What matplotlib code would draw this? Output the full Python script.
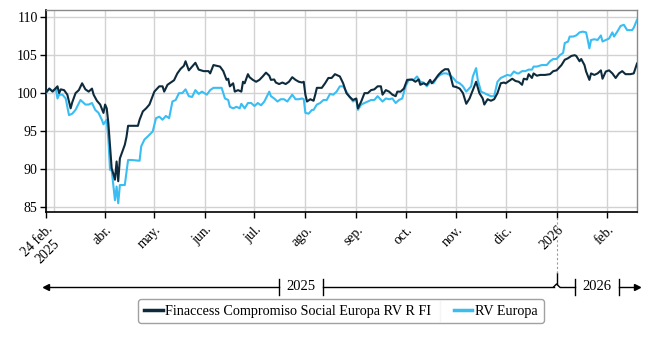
import numpy as np
import pandas as pd
import matplotlib
matplotlib.use("Agg")
import matplotlib.pyplot as plt
import matplotlib.dates as mdates
from matplotlib.lines import Line2D

plt.rcParams["font.family"] = ["Liberation Serif", "DejaVu Serif"]

START = pd.Timestamp("2025-02-24")
END = pd.Timestamp("2026-02-19")

# days since 24 feb 2025, base 100
fund_days = [0, 2, 4, 7, 8, 9, 11, 13, 15, 16, 18, 20, 22, 24, 26, 28, 29, 31, 33, 35,
             36, 37, 38, 39, 40, 41, 42, 43, 44, 45, 46, 48, 49, 50, 53, 56, 57, 59, 61, 63,
             66, 69, 71, 72, 74, 76, 78, 80, 82, 84, 85, 87, 89, 91, 93, 96, 99, 100, 102, 104,
             106, 108, 110, 111, 112, 114, 115, 117, 119, 120, 121, 123, 124, 126, 128, 130, 132, 134, 136, 137,
             139, 140, 142, 144, 146, 148, 150, 152, 154, 156, 157, 158, 159, 161, 163, 164, 165, 168, 170, 172,
             174, 176, 178, 179, 181, 183, 185, 187, 189, 190, 192, 194, 196, 198, 200, 202, 204, 205, 207, 209,
             211, 213, 214, 216, 218, 220, 223, 225, 227, 228, 230, 232, 234, 235, 237, 239, 241, 243, 245, 246,
             248, 250, 252, 254, 256, 258, 260, 262, 264, 266, 267, 269, 271, 273, 275, 277, 279, 280, 282, 284,
             286, 288, 290, 291, 293, 294, 296, 297, 299, 301, 304, 307, 309, 311, 314, 316, 318, 320, 322, 323,
             325, 326, 328, 329, 331, 332, 334, 336, 338, 339, 341, 343, 345, 347, 349, 351, 353, 356, 358, 360]
fund_vals = [100.1, 100.6, 100.2, 100.9, 100.0, 100.5, 100.4, 99.8, 98.0, 98.8, 100.0, 100.4, 101.3, 100.5, 100.2, 100.6, 99.8, 99.0, 98.5, 97.4,
             98.5, 98.0, 96.0, 93.0, 90.1, 89.4, 88.6, 91.0, 88.4, 91.4, 92.0, 93.2, 94.2, 95.7, 95.7, 95.7, 96.5, 97.6, 98.0, 98.5,
             100.2, 100.9, 100.9, 100.2, 101.1, 101.4, 101.7, 102.6, 103.2, 103.6, 104.2, 103.0, 103.5, 104.0, 103.1, 102.9, 102.9, 102.6, 103.7, 103.6,
             103.5, 102.9, 101.75, 101.9, 100.9, 101.3, 100.2, 100.4, 100.2, 101.5, 101.3, 102.5, 102.1, 101.75, 101.5, 101.75, 102.2, 102.7, 102.3, 101.75,
             101.8, 101.4, 101.2, 101.4, 101.2, 101.5, 102.1, 101.75, 101.5, 101.4, 101.5, 99.8, 98.9, 99.2, 99.0, 99.8, 100.7, 100.7, 101.3, 102.0,
             102.0, 102.5, 102.3, 102.2, 101.3, 100.0, 99.5, 99.1, 99.3, 98.0, 98.9, 100.0, 100.0, 100.4, 100.5, 100.9, 100.9, 99.8, 100.4, 100.2,
             99.8, 99.6, 100.2, 100.2, 100.6, 101.75, 101.8, 101.5, 101.8, 101.1, 101.3, 101.1, 101.75, 101.3, 101.8, 102.4, 102.85, 103.15, 103.15, 102.6,
             100.9, 100.8, 100.6, 100.0, 98.6, 99.3, 100.4, 101.5, 100.0, 99.3, 98.5, 99.2, 99.0, 99.2, 100.0, 101.3, 101.4, 101.3, 101.6, 101.9,
             101.6, 101.5, 101.1, 101.9, 101.8, 102.5, 102.0, 102.6, 102.3, 102.4, 102.4, 102.5, 102.9, 103.0, 103.7, 104.4, 104.6, 104.9, 105.0, 104.9,
             104.2, 104.5, 103.7, 102.85, 101.75, 102.6, 102.4, 102.6, 103.0, 101.9, 102.85, 103.0, 102.6, 102.0, 102.6, 102.9, 102.5, 102.5, 102.6, 103.9]

bench_days = [0, 2, 4, 6, 7, 8, 10, 12, 14, 16, 18, 21, 22, 24, 26, 28, 30, 32, 34, 35,
              37, 38, 39, 40, 42, 43, 44, 45, 47, 48, 50, 52, 57, 58, 60, 62, 65, 67, 69, 71,
              73, 75, 77, 79, 81, 83, 85, 87, 89, 91, 93, 95, 98, 100, 102, 105, 107, 109, 111, 112,
              114, 116, 118, 119, 121, 123, 125, 127, 129, 131, 133, 136, 137, 139, 141, 143, 145, 147, 150, 152,
              154, 156, 157, 158, 160, 162, 163, 165, 167, 169, 171, 173, 175, 177, 179, 181, 183, 185, 187, 189,
              190, 192, 194, 196, 198, 200, 202, 205, 207, 209, 211, 213, 215, 217, 219, 221, 224, 226, 228, 230,
              232, 234, 236, 238, 240, 242, 244, 246, 248, 250, 252, 254, 256, 259, 260, 262, 263, 265, 267, 269,
              271, 273, 275, 277, 279, 281, 283, 285, 287, 288, 290, 292, 294, 296, 297, 299, 302, 305, 307, 309,
              311, 313, 315, 316, 318, 319, 321, 323, 325, 327, 329, 330, 331, 332, 334, 336, 338, 339, 341, 343,
              345, 346, 348, 350, 352, 354, 357, 358, 360]
bench_vals = [100.0, 100.6, 100.3, 100.6, 99.3, 99.8, 99.8, 99.3, 97.1, 97.3, 97.8, 99.1, 98.9, 98.5, 98.5, 98.7, 97.8, 97.4, 96.5, 95.9,
              96.5, 93.9, 89.9, 89.9, 85.9, 87.7, 85.5, 87.9, 87.9, 87.9, 91.2, 91.2, 91.1, 93.0, 93.9, 94.3, 94.95, 96.7, 96.9, 96.5,
              97.0, 96.7, 98.9, 99.1, 100.0, 100.0, 100.5, 99.6, 99.5, 100.4, 99.9, 100.2, 99.8, 100.4, 100.7, 100.7, 100.7, 99.3, 99.1, 98.2,
              98.0, 98.2, 98.0, 98.6, 98.0, 98.7, 98.7, 98.3, 98.7, 98.4, 98.9, 100.2, 99.6, 99.3, 98.9, 99.2, 99.2, 98.9, 99.8, 99.2,
              99.2, 99.3, 99.2, 97.4, 97.3, 97.8, 97.8, 98.5, 98.7, 99.1, 99.1, 99.9, 99.8, 100.2, 100.9, 100.9, 100.2, 99.5, 98.9, 99.2,
              97.8, 98.5, 98.7, 98.9, 99.1, 99.1, 99.6, 98.9, 99.3, 99.2, 99.3, 98.7, 99.1, 99.3, 100.9, 101.75, 101.75, 102.2, 101.5, 101.4,
              100.9, 101.5, 101.3, 102.0, 102.4, 102.6, 102.6, 102.4, 102.0, 101.5, 101.3, 100.9, 100.2, 100.9, 102.2, 103.3, 101.75, 100.2, 100.0, 99.8,
              99.6, 99.6, 101.5, 102.0, 102.2, 102.4, 102.3, 102.85, 102.6, 102.6, 102.9, 102.9, 103.1, 103.1, 103.5, 103.5, 103.7, 103.7, 104.2, 104.5,
              104.5, 105.0, 105.3, 106.6, 106.8, 107.45, 107.45, 107.6, 108.0, 108.1, 108.0, 107.0, 105.9, 107.0, 107.1, 107.0, 107.6, 106.8, 107.0, 107.2,
              108.0, 107.45, 108.1, 108.85, 109.0, 108.3, 108.3, 108.6, 109.65]

tick_dates = ["2025-02-24", "2025-04-01", "2025-05-01", "2025-06-01", "2025-07-01", "2025-08-01",
              "2025-09-01", "2025-10-01", "2025-11-01", "2025-12-01", "2026-01-01", "2026-02-01"]
tick_labels = ["24 feb.\n2025", "abr.", "may.", "jun.", "jul.", "ago.", "sep.", "oct.", "nov.",
               "dic.", "2026", "feb."]
y_ticks = [85, 90, 95, 100, 105, 110]
series_names = ["Finaccess Compromiso Social Europa RV R FI", "RV Europa"]
colors = ["#0e2b3d", "#3abdf2"]

W, H = 650, 338
fig = plt.figure(figsize=(W / 100, H / 100), dpi=100)
ax = fig.add_axes([46 / W, 1 - 212 / H, 591 / W, 202 / H])

fund_x = START + pd.to_timedelta(fund_days, unit="D")
bench_x = START + pd.to_timedelta(bench_days, unit="D")
ax.plot(bench_x, bench_vals, color=colors[1], lw=1.5, zorder=3)
ax.plot(fund_x, fund_vals, color=colors[0], lw=1.5, zorder=4)

ax.set_xlim(START, END)
ax.set_ylim(84.35, 110.95)
ax.set_yticks(y_ticks)
ax.set_yticklabels([str(v) for v in y_ticks], fontsize=10)
ax.set_xticks(pd.to_datetime(tick_dates))
ax.set_xticklabels(tick_labels, fontsize=10, rotation=45, ha="right", va="top",
                   rotation_mode="anchor")
ax.get_xticklabels()[0].set_multialignment("center")
ax.tick_params(axis="both", length=4, width=1, color="black")
ax.tick_params(axis="y", pad=2)
ax.tick_params(axis="x", pad=4)

ax.grid(True, color="#d2d2d2", lw=1)
ax.axvline(pd.Timestamp("2025-03-01"), color="#d2d2d2", lw=1, zorder=0)
ax.set_axisbelow(True)
for side in ["left", "bottom"]:
    ax.spines[side].set_color("black")
    ax.spines[side].set_linewidth(1.2)
for side in ["top", "right"]:
    ax.spines[side].set_color("#8a8a8a")
    ax.spines[side].set_linewidth(1)

# year navigator under the axis
inv = fig.transFigure.inverted()


def fx(d):
    xd = ax.transData.transform((mdates.date2num(pd.Timestamp(d)), 0))[0]
    return inv.transform((xd, 0))[0]


y_nav = 1 - 287 / H
dx = 1 / W
dy = 1 / H
x0, x26, x1 = fx(START), fx("2026-01-01"), fx(END)
c25, c26 = (x0 + x26) / 2, (x26 + x1) / 2
gap = 22 * dx
kw = dict(color="black", lw=1, transform=fig.transFigure, clip_on=False)
segs = [(x0, c25 - gap), (c25 + gap, x26 - 3 * dx), (x26 + 3 * dx, c26 - gap), (c26 + gap, x1)]
for a, b in segs:
    fig.add_artist(Line2D([a, b], [y_nav, y_nav], **kw))
for c in (c25, c26):
    for e in (c - gap, c + gap):
        fig.add_artist(Line2D([e, e], [y_nav - 8 * dy, y_nav + 8 * dy], **kw))
fig.text(c25, y_nav, "2025", ha="center", va="center", fontsize=10.5)
fig.text(c26, y_nav, "2026", ha="center", va="center", fontsize=10.5)
fig.add_artist(Line2D([x26 - 3 * dx, x26, x26 + 3 * dx], [y_nav, y_nav + 3 * dy, y_nav], **kw))
fig.add_artist(Line2D([x26, x26], [y_nav + 3 * dy, y_nav + 14 * dy], **kw))
fig.add_artist(Line2D([x26, x26], [y_nav + 14 * dy, 1 - 216 / H], color="#9a9a9a", lw=0.8,
                      ls=(0, (2, 2)), transform=fig.transFigure, clip_on=False))
fig.add_artist(Line2D([x0], [y_nav], marker="<", ms=5, color="black",
                      transform=fig.transFigure, clip_on=False))
fig.add_artist(Line2D([x1], [y_nav], marker=">", ms=5, color="black",
                      transform=fig.transFigure, clip_on=False))

handles = [Line2D([], [], color=c, lw=2.5) for c in colors]
leg = fig.legend(handles, series_names, loc="center", bbox_to_anchor=(341 / W, 1 - 311 / H),
                 ncol=2, fontsize=10.2, frameon=True, fancybox=True, edgecolor="#8a8a8a",
                 handlelength=1.3, handletextpad=0.2, columnspacing=1.6, borderpad=0.4)
leg.get_frame().set_linewidth(1)

fig.canvas.draw()
r = fig.canvas.get_renderer()
t0 = leg.get_texts()[0].get_window_extent(r)
bb = leg.get_frame().get_window_extent(r)
sx = inv.transform((t0.x1 + 9, 0))[0]
fig.add_artist(Line2D([sx, sx], [inv.transform((0, bb.y0 + 2))[1], inv.transform((0, bb.y1 - 2))[1]],
                      color="#d0d0d0", lw=1, transform=fig.transFigure))

fig.savefig("out.png", dpi=100)
